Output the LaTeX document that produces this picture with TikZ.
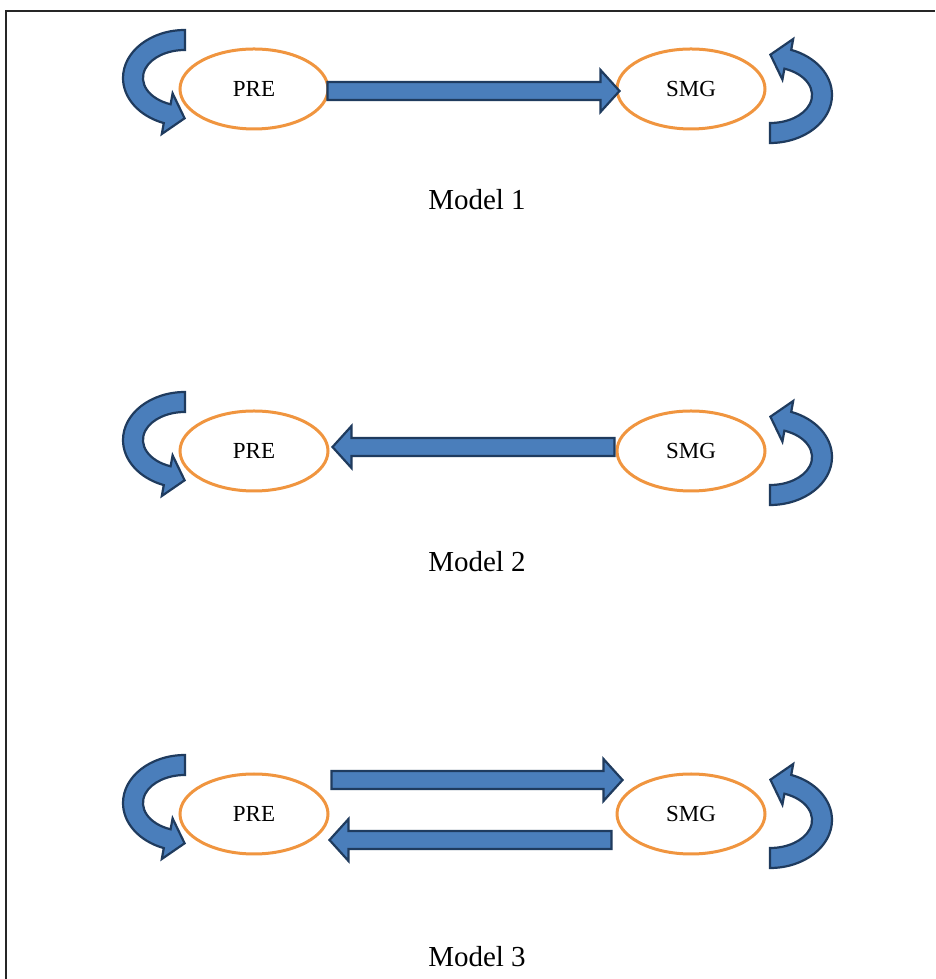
\documentclass[tikz,border=0pt]{standalone}
\usepackage{fontspec}
\setmainfont{Liberation Serif}
\usetikzlibrary{shapes.geometric,calc}
\definecolor{arrfill}{HTML}{4A7EBB}
\definecolor{arrline}{HTML}{1F3B5E}
\definecolor{ellline}{HTML}{F0953F}
\tikzset{
  fat/.style={fill=arrfill, draw=arrline, line width=2.2pt, line join=miter},
  statebox/.style={ellipse, draw=ellline, line width=3pt, fill=white,
     minimum width=148pt, minimum height=80pt, inner sep=0pt,
     font=\fontsize{23}{26}\selectfont},
  caption/.style={font=\fontsize{29}{32}\selectfont, inner sep=0pt}
}
% horizontal fat arrow from #1 to #2 (tip at #2)
\newcommand\rfat[2]{\draw[fat] let \p1=(#1), \p2=(#2) in
  (\x1,\y1+9pt) -- (\x2-19pt,\y1+9pt) -- (\x2-19pt,\y1+21pt) -- (\x2,\y1)
  -- (\x2-19pt,\y1-21pt) -- (\x2-19pt,\y1-9pt) -- (\x1,\y1-9pt) -- cycle;}
\newcommand\lfat[2]{\draw[fat] let \p1=(#1), \p2=(#2) in
  (\x1,\y1+9pt) -- (\x2+19pt,\y1+9pt) -- (\x2+19pt,\y1+21pt) -- (\x2,\y1)
  -- (\x2+19pt,\y1-21pt) -- (\x2+19pt,\y1-9pt) -- (\x1,\y1-9pt) -- cycle;}
% curved self arrow in local coordinates
\newcommand\curvarrow{\draw[fat]
  (0,48) arc[start angle=90, end angle=250, x radius=62pt, y radius=48pt]
  -- (-23.2,-56) -- (-0.4,-40.3) -- (-12.4,-15.4) -- (-14.4,-26.3)
  arc[start angle=250, end angle=90, x radius=42pt, y radius=28pt] -- cycle;}
\begin{document}
\begin{tikzpicture}[x=1pt,y=1pt]
\useasboundingbox (0,0) rectangle (935,979);
\fill[white] (0,0) rectangle (935,979);
% frame
\draw[line width=2.6pt, color=black!85] (6,0) -- (6,968) -- (935,968);

\foreach \k/\yy in {1/890, 2/528, 3/165}{
  \node[statebox] (pre\k) at (254,\yy) {PRE};
  \node[statebox] (smg\k) at (691,\yy) {SMG};
  \begin{scope}[shift={(185,\yy+11)}]\curvarrow\end{scope}
  \begin{scope}[shift={(770,\yy-6)}, rotate=180]\curvarrow\end{scope}
}
\node[caption] (cap1) at (477,779) {Model 1};
\node[caption] (cap2) at (477,417) {Model 2};
\node[caption] (cap3) at (477,22) {Model 3};

% Model 1
\coordinate (m1s) at ($(pre1.east)+(-2,-2)$);
\coordinate (m1e) at ($(smg1.west)+(4,-2)$);
\rfat{m1s}{m1e}
% Model 2
\coordinate (m2s) at ($(smg2.west)+(-1,4)$);
\coordinate (m2e) at ($(pre2.east)+(3,4)$);
\lfat{m2s}{m2e}
% Model 3
\coordinate (m3as) at ($(pre3.east)+(2,34)$);
\coordinate (m3ae) at ($(smg3.west)+(7,34)$);
\rfat{m3as}{m3ae}
\coordinate (m3bs) at ($(smg3.west)+(-4,-26)$);
\coordinate (m3be) at ($(pre3.east)+(0,-26)$);
\lfat{m3bs}{m3be}
\end{tikzpicture}
\end{document}
